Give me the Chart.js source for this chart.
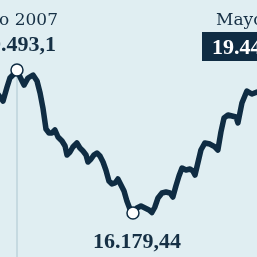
<!DOCTYPE html>
<html>
<head>
<meta charset="utf-8">
<script src="https://cdn.jsdelivr.net/npm/chart.js@4/dist/chart.umd.min.js"></script>
<style>
  html, body { margin: 0; padding: 0; background: #e0eef2; }
  #wrap { width: 257px; height: 257px; }
</style>
</head>
<body>
<div id="wrap"><canvas id="chart" width="257" height="257"></canvas></div>
<script>
// months counted from Jan 2007 (0 = Jan 2007)
const months = [-5.0, -2.9, -1.3, 0.8, 2.3, 4.4, 6.0, 7.6, 9.7, 11.8, 14.4, 16.5, 18.1, 19.6, 21.2, 22.8,
  24.3, 25.9, 27.5, 29.6, 31.2, 32.2, 33.8, 35.3, 37.4, 39.0, 40.6, 42.2, 43.2, 44.8, 46.3, 47.9,
  49.5, 51.1, 52.6, 54.2, 55.8, 57.4, 58.9, 60.5, 62.1, 63.6, 65.2, 66.8, 68.9, 71.0, 73.1, 75.2,
  76.7, 78.3, 79.9, 82.0, 84.1, 86.2, 87.7, 89.3, 90.9, 92.5, 94.6, 96.7, 98.2, 99.3, 100.8, 102.4,
  104.5, 107.1, 109.8, 111.3, 112.9, 114.5, 116.6, 118.7, 120.8, 121.8, 123.9, 126.5, 129.1, 131.8, 133.9];
const values = [18983, 18867, 18775, 19099, 19308, 19400, 19493.1, 19331, 19145, 19308, 19377, 19238, 18960, 18613, 18126, 18033,
  18033, 18103, 17941, 17848, 17732, 17524, 17593, 17709, 17802, 17686, 17616, 17524, 17361, 17431, 17524, 17570,
  17500, 17361, 17176, 16921, 16852, 16875, 16968, 16828, 16689, 16458, 16272, 16179.44, 16296, 16342, 16296, 16249,
  16190, 16319, 16527, 16643, 16666, 16643, 16550, 16805, 17037, 17222, 17176, 17199, 17153, 17060, 17338, 17639,
  17802, 17778, 17709, 17639, 18057, 18381, 18450, 18427, 18404, 18265, 18728, 19006, 18937, 18983, 19053];

const peakLabel = ['Julio 2007', '19.493,1'];
const lastLabel = ['Mayo 2019', '19.445,5'];
const lowLabel = '16.179,44';

const peakIdx = values.indexOf(Math.max(...values));
const lowIdx = values.indexOf(Math.min(...values));

const ink = '#163045';
const navy = '#0f2c43';

const annotations = {
  id: 'annotations',
  beforeDatasetsDraw(chart) {
    const ctx = chart.ctx;
    const x = chart.scales.x.getPixelForValue(months[peakIdx]);
    const y = chart.scales.y.getPixelForValue(values[peakIdx]);
    ctx.save();
    ctx.strokeStyle = '#c6dae1';
    ctx.lineWidth = 2;
    ctx.beginPath();
    ctx.moveTo(x, y);
    ctx.lineTo(x, chart.height);
    ctx.stroke();
    ctx.restore();
  },
  afterDraw(chart) {
    const ctx = chart.ctx;
    ctx.save();
    ctx.textBaseline = 'alphabetic';

    // peak (left)
    ctx.fillStyle = ink;
    ctx.font = '17px "DejaVu Serif"';
    ctx.textAlign = 'right';
    ctx.fillText(peakLabel[0], 58, 25);
    ctx.font = 'bold 22px "Liberation Serif"';
    ctx.fillText(peakLabel[1], 56, 51);

    // latest (right)
    ctx.textAlign = 'left';
    ctx.font = '17px "DejaVu Serif"';
    ctx.fillText(lastLabel[0], 216, 25);
    ctx.fillStyle = navy;
    ctx.fillRect(202, 32, 80, 29);
    ctx.fillStyle = '#ffffff';
    ctx.font = 'bold 22px "Liberation Serif"';
    ctx.fillText(lastLabel[1], 212, 54);

    // low
    ctx.fillStyle = ink;
    ctx.textAlign = 'center';
    ctx.fillText(lowLabel, 137, 248);
    ctx.restore();
  }
};

new Chart(document.getElementById('chart'), {
  type: 'line',
  data: {
    datasets: [{
      data: months.map((m, i) => ({ x: m, y: values[i] })),
      borderColor: navy,
      borderWidth: 5.5,
      borderJoinStyle: 'round',
      borderCapStyle: 'round',
      tension: 0,
      pointRadius: values.map((v, i) => (i === peakIdx || i === lowIdx) ? 6 : 0),
      pointBackgroundColor: '#ffffff',
      pointBorderColor: navy,
      pointBorderWidth: 1.5
    }]
  },
  options: {
    responsive: false,
    animation: false,
    layout: { padding: 0 },
    scales: {
      x: { type: 'linear', min: -2.9, max: 131.8, display: false },
      y: { min: 15160, max: 21115, display: false }
    },
    plugins: {
      legend: { display: false },
      tooltip: { enabled: false }
    }
  },
  plugins: [annotations]
});
</script>
</body>
</html>
